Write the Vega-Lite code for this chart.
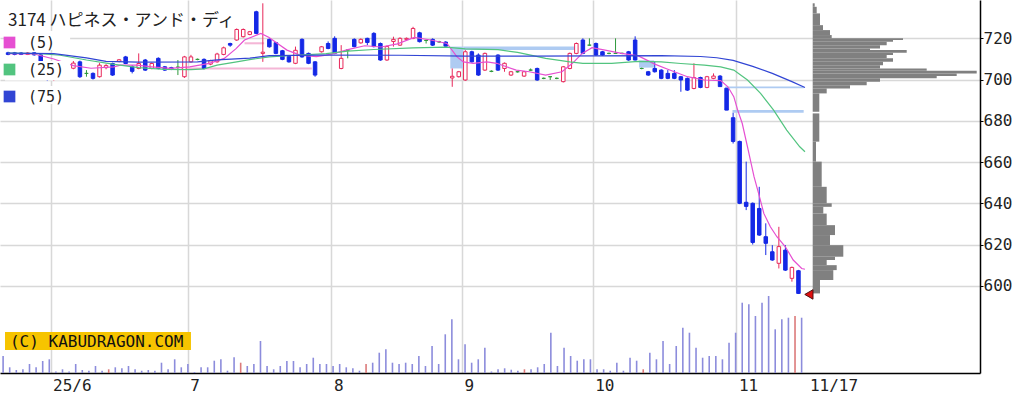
{
 "$schema": "https://vega.github.io/schema/vega-lite/v6.json",
 "width": 980, "height": 373, "autosize": "none", "padding": {"left": 0, "top": 0, "right": 52, "bottom": 28}, "background": "white",
 "config": {"view": {"stroke": null}, "font": "DejaVu Sans"},
 "datasets": {
  "candles": [
   {"i":0,"o":713.0,"h":713.5,"l":711.8,"c":712.2,"d":"down","v":17000,"sp":0},
   {"i":1,"o":713.0,"h":713.4,"l":711.8,"c":712.2,"d":"down","v":5700,"sp":0},
   {"i":2,"o":712.9,"h":713.3,"l":711.9,"c":712.2,"d":"down","v":3000,"sp":0},
   {"i":3,"o":712.2,"h":713.3,"l":711.9,"c":712.9,"d":"up","v":3700,"sp":0},
   {"i":4,"o":713.0,"h":713.3,"l":711.6,"c":712.0,"d":"down","v":9000,"sp":0},
   {"i":5,"o":712.0,"h":712.3,"l":707.5,"c":708.0,"d":"down","v":5700,"sp":0},
   {"i":6,"o":707.5,"h":708.0,"l":699.3,"c":703.5,"d":"down","v":12000,"sp":0},
   {"i":7,"o":702.5,"h":705.0,"l":699.3,"c":704.0,"d":"up","v":13700,"sp":0},
   {"i":8,"o":705.0,"h":706.0,"l":702.5,"c":703.0,"d":"down","v":1500,"sp":0},
   {"i":9,"o":703.0,"h":706.0,"l":702.5,"c":705.5,"d":"up","v":3700,"sp":0},
   {"i":10,"o":705.5,"h":709.0,"l":705.0,"c":708.0,"d":"up","v":1500,"sp":0},
   {"i":11,"o":708.6,"h":709.2,"l":700.8,"c":701.4,"d":"down","v":9000,"sp":0},
   {"i":12,"o":703.0,"h":704.6,"l":701.4,"c":703.0,"d":"even","v":3000,"sp":0},
   {"i":13,"o":703.0,"h":703.5,"l":700.0,"c":700.6,"d":"down","v":2300,"sp":0},
   {"i":14,"o":701.4,"h":708.0,"l":701.0,"c":707.0,"d":"up","v":7000,"sp":0},
   {"i":15,"o":705.8,"h":707.5,"l":705.0,"c":706.8,"d":"up","v":2300,"sp":0},
   {"i":16,"o":707.8,"h":708.2,"l":701.8,"c":702.2,"d":"down","v":3700,"sp":1},
   {"i":17,"o":708.8,"h":710.0,"l":708.4,"c":709.6,"d":"up","v":5700,"sp":0},
   {"i":18,"o":711.0,"h":711.5,"l":707.5,"c":707.8,"d":"down","v":4700,"sp":0},
   {"i":19,"o":706.2,"h":707.0,"l":703.0,"c":704.0,"d":"down","v":7000,"sp":0},
   {"i":20,"o":705.4,"h":712.7,"l":705.0,"c":707.8,"d":"up","v":3700,"sp":0},
   {"i":21,"o":709.5,"h":710.0,"l":704.2,"c":704.6,"d":"down","v":2300,"sp":0},
   {"i":22,"o":705.4,"h":708.3,"l":705.0,"c":707.8,"d":"up","v":3000,"sp":0},
   {"i":23,"o":710.3,"h":710.8,"l":705.0,"c":705.4,"d":"down","v":2300,"sp":0},
   {"i":24,"o":706.2,"h":706.6,"l":704.2,"c":704.6,"d":"down","v":10300,"sp":0},
   {"i":25,"o":705.8,"h":706.2,"l":704.6,"c":705.0,"d":"down","v":3700,"sp":0},
   {"i":26,"o":706.0,"h":709.5,"l":702.2,"c":706.0,"d":"even","v":13700,"sp":0},
   {"i":27,"o":701.4,"h":711.5,"l":700.8,"c":711.0,"d":"up","v":5700,"sp":0},
   {"i":28,"o":708.6,"h":712.0,"l":708.2,"c":711.0,"d":"up","v":9000,"sp":0},
   {"i":29,"o":709.8,"h":710.2,"l":709.4,"c":709.8,"d":"even","v":1000,"sp":0},
   {"i":30,"o":709.8,"h":710.3,"l":705.0,"c":705.4,"d":"down","v":5700,"sp":0},
   {"i":31,"o":707.5,"h":709.6,"l":707.0,"c":709.1,"d":"up","v":5700,"sp":0},
   {"i":32,"o":708.6,"h":713.0,"l":708.2,"c":712.4,"d":"up","v":12300,"sp":0},
   {"i":33,"o":712.2,"h":716.0,"l":711.8,"c":715.4,"d":"up","v":13700,"sp":0},
   {"i":34,"o":717.5,"h":717.9,"l":715.9,"c":716.7,"d":"down","v":2300,"sp":0},
   {"i":35,"o":719.2,"h":724.8,"l":718.8,"c":724.3,"d":"up","v":15700,"sp":0},
   {"i":36,"o":720.8,"h":724.8,"l":720.4,"c":724.3,"d":"up","v":10300,"sp":1},
   {"i":37,"o":721.9,"h":723.6,"l":721.5,"c":723.2,"d":"up","v":7000,"sp":0},
   {"i":38,"o":732.9,"h":733.4,"l":722.0,"c":722.4,"d":"down","v":9000,"sp":0},
   {"i":39,"o":712.7,"h":737.0,"l":708.6,"c":713.3,"d":"up","v":32000,"sp":0},
   {"i":40,"o":719.5,"h":720.0,"l":715.5,"c":715.9,"d":"down","v":7000,"sp":0},
   {"i":41,"o":717.9,"h":718.3,"l":712.3,"c":712.7,"d":"down","v":3700,"sp":0},
   {"i":42,"o":714.0,"h":714.4,"l":709.4,"c":709.8,"d":"down","v":7000,"sp":0},
   {"i":43,"o":711.2,"h":711.6,"l":708.2,"c":708.6,"d":"down","v":12000,"sp":0},
   {"i":44,"o":707.9,"h":716.0,"l":707.5,"c":714.2,"d":"up","v":12000,"sp":0},
   {"i":45,"o":719.5,"h":720.0,"l":710.6,"c":711.0,"d":"down","v":5700,"sp":0},
   {"i":46,"o":712.7,"h":713.1,"l":707.5,"c":707.9,"d":"down","v":9000,"sp":0},
   {"i":47,"o":708.6,"h":709.0,"l":701.4,"c":702.2,"d":"down","v":15300,"sp":0},
   {"i":48,"o":713.5,"h":716.3,"l":713.1,"c":715.9,"d":"up","v":9000,"sp":0},
   {"i":49,"o":717.5,"h":718.5,"l":714.7,"c":715.1,"d":"down","v":9000,"sp":0},
   {"i":50,"o":720.0,"h":721.0,"l":712.3,"c":712.7,"d":"down","v":7000,"sp":0},
   {"i":51,"o":705.4,"h":716.7,"l":705.0,"c":710.3,"d":"up","v":9000,"sp":0},
   {"i":52,"o":714.3,"h":714.6,"l":710.3,"c":714.3,"d":"even","v":5700,"sp":0},
   {"i":53,"o":719.5,"h":720.0,"l":715.6,"c":716.0,"d":"down","v":4700,"sp":0},
   {"i":54,"o":717.8,"h":720.0,"l":717.4,"c":719.5,"d":"up","v":2300,"sp":0},
   {"i":55,"o":720.0,"h":720.3,"l":716.7,"c":718.0,"d":"down","v":9000,"sp":1},
   {"i":56,"o":722.4,"h":723.0,"l":715.6,"c":716.0,"d":"down","v":10300,"sp":0},
   {"i":57,"o":717.5,"h":718.0,"l":709.1,"c":709.5,"d":"down","v":20300,"sp":0},
   {"i":58,"o":709.5,"h":716.5,"l":709.1,"c":716.0,"d":"up","v":23700,"sp":0},
   {"i":59,"o":718.5,"h":720.8,"l":716.0,"c":719.5,"d":"up","v":10300,"sp":0},
   {"i":60,"o":716.7,"h":720.5,"l":716.3,"c":720.0,"d":"up","v":9000,"sp":0},
   {"i":61,"o":719.5,"h":720.4,"l":719.1,"c":720.0,"d":"up","v":10300,"sp":0},
   {"i":62,"o":720.0,"h":725.6,"l":719.6,"c":724.8,"d":"up","v":9000,"sp":0},
   {"i":63,"o":722.7,"h":723.2,"l":718.0,"c":718.4,"d":"down","v":17000,"sp":0},
   {"i":64,"o":719.0,"h":719.3,"l":717.5,"c":719.0,"d":"even","v":7000,"sp":0},
   {"i":65,"o":719.5,"h":720.0,"l":716.3,"c":716.7,"d":"down","v":27000,"sp":0},
   {"i":66,"o":718.3,"h":718.8,"l":717.8,"c":718.3,"d":"even","v":9000,"sp":0},
   {"i":67,"o":718.2,"h":718.6,"l":716.0,"c":716.2,"d":"down","v":38700,"sp":0},
   {"i":68,"o":700.8,"h":705.4,"l":696.5,"c":701.6,"d":"up","v":53700,"sp":0},
   {"i":69,"o":701.4,"h":704.2,"l":701.0,"c":703.8,"d":"up","v":13700,"sp":0},
   {"i":70,"o":699.8,"h":714.3,"l":699.4,"c":713.5,"d":"up","v":28700,"sp":0},
   {"i":71,"o":713.5,"h":714.0,"l":708.2,"c":708.6,"d":"down","v":10300,"sp":0},
   {"i":72,"o":711.9,"h":712.7,"l":701.8,"c":702.2,"d":"down","v":13700,"sp":0},
   {"i":73,"o":704.6,"h":713.1,"l":704.2,"c":712.7,"d":"up","v":25300,"sp":0},
   {"i":74,"o":704.0,"h":704.5,"l":703.6,"c":704.0,"d":"even","v":1500,"sp":0},
   {"i":75,"o":711.9,"h":712.3,"l":704.2,"c":704.6,"d":"down","v":3700,"sp":0},
   {"i":76,"o":705.4,"h":708.3,"l":703.8,"c":707.9,"d":"up","v":4700,"sp":0},
   {"i":77,"o":702.2,"h":704.2,"l":701.8,"c":703.8,"d":"up","v":3300,"sp":0},
   {"i":78,"o":703.8,"h":704.2,"l":703.4,"c":703.8,"d":"even","v":2300,"sp":0},
   {"i":79,"o":701.7,"h":704.2,"l":701.3,"c":703.8,"d":"up","v":3700,"sp":1},
   {"i":80,"o":704.6,"h":705.4,"l":704.2,"c":704.6,"d":"even","v":3700,"sp":0},
   {"i":81,"o":705.4,"h":705.8,"l":699.4,"c":699.8,"d":"down","v":5700,"sp":0},
   {"i":82,"o":700.6,"h":701.0,"l":700.2,"c":700.6,"d":"even","v":9000,"sp":0},
   {"i":83,"o":701.4,"h":701.6,"l":699.8,"c":701.4,"d":"even","v":40300,"sp":0},
   {"i":84,"o":700.6,"h":701.0,"l":700.2,"c":700.6,"d":"even","v":7000,"sp":0},
   {"i":85,"o":699.0,"h":706.6,"l":698.6,"c":706.2,"d":"up","v":25300,"sp":0},
   {"i":86,"o":705.4,"h":713.1,"l":705.0,"c":712.7,"d":"up","v":17000,"sp":0},
   {"i":87,"o":712.7,"h":718.0,"l":712.3,"c":717.5,"d":"up","v":12300,"sp":0},
   {"i":88,"o":719.2,"h":720.0,"l":712.3,"c":712.7,"d":"down","v":13700,"sp":0},
   {"i":89,"o":716.7,"h":720.0,"l":716.5,"c":716.7,"d":"even","v":13700,"sp":0},
   {"i":90,"o":717.5,"h":718.0,"l":711.5,"c":711.9,"d":"down","v":3700,"sp":0},
   {"i":91,"o":713.5,"h":713.9,"l":711.5,"c":711.9,"d":"down","v":3700,"sp":0},
   {"i":92,"o":712.7,"h":713.1,"l":712.3,"c":712.7,"d":"even","v":2300,"sp":0},
   {"i":93,"o":712.7,"h":720.0,"l":712.4,"c":712.7,"d":"even","v":10300,"sp":0},
   {"i":94,"o":712.7,"h":713.1,"l":712.3,"c":712.7,"d":"even","v":2300,"sp":0},
   {"i":95,"o":713.5,"h":713.9,"l":709.1,"c":709.5,"d":"down","v":15300,"sp":0},
   {"i":96,"o":719.2,"h":721.0,"l":709.3,"c":709.5,"d":"down","v":12300,"sp":0},
   {"i":97,"o":705.4,"h":705.8,"l":705.0,"c":705.4,"d":"even","v":3700,"sp":1},
   {"i":98,"o":703.8,"h":704.2,"l":701.8,"c":702.2,"d":"down","v":20300,"sp":0},
   {"i":99,"o":705.4,"h":708.6,"l":703.4,"c":703.8,"d":"down","v":13700,"sp":0},
   {"i":100,"o":704.6,"h":705.0,"l":700.2,"c":700.6,"d":"down","v":32000,"sp":0},
   {"i":101,"o":703.0,"h":704.6,"l":700.2,"c":700.6,"d":"down","v":9000,"sp":0},
   {"i":102,"o":703.0,"h":704.6,"l":700.2,"c":700.6,"d":"down","v":27000,"sp":0},
   {"i":103,"o":701.4,"h":701.8,"l":694.1,"c":699.8,"d":"down","v":45300,"sp":0},
   {"i":104,"o":700.6,"h":701.0,"l":694.5,"c":694.9,"d":"down","v":40300,"sp":0},
   {"i":105,"o":695.7,"h":707.9,"l":695.3,"c":701.0,"d":"up","v":25300,"sp":0},
   {"i":106,"o":701.0,"h":701.4,"l":695.8,"c":696.2,"d":"down","v":15300,"sp":0},
   {"i":107,"o":696.2,"h":701.8,"l":695.8,"c":701.4,"d":"up","v":17000,"sp":0},
   {"i":108,"o":700.6,"h":703.0,"l":700.2,"c":701.7,"d":"up","v":17000,"sp":0},
   {"i":109,"o":701.7,"h":702.2,"l":696.6,"c":696.6,"d":"down","v":13700,"sp":0},
   {"i":110,"o":695.8,"h":695.8,"l":685.2,"c":685.2,"d":"down","v":30300,"sp":0},
   {"i":111,"o":681.5,"h":683.9,"l":669.0,"c":670.0,"d":"down","v":40300,"sp":0},
   {"i":112,"o":670.0,"h":670.4,"l":639.6,"c":640.0,"d":"down","v":70300,"sp":0},
   {"i":113,"o":640.5,"h":660.2,"l":636.7,"c":638.5,"d":"down","v":68700,"sp":0},
   {"i":114,"o":640.0,"h":640.4,"l":620.0,"c":621.0,"d":"down","v":57000,"sp":0},
   {"i":115,"o":637.5,"h":648.0,"l":624.2,"c":624.6,"d":"down","v":70300,"sp":0},
   {"i":116,"o":623.8,"h":630.3,"l":614.9,"c":620.6,"d":"down","v":77000,"sp":0},
   {"i":117,"o":616.5,"h":619.7,"l":612.1,"c":612.5,"d":"down","v":43700,"sp":0},
   {"i":118,"o":610.9,"h":628.6,"l":608.4,"c":619.0,"d":"up","v":53700,"sp":0},
   {"i":119,"o":617.3,"h":619.7,"l":607.2,"c":607.6,"d":"down","v":55300,"sp":0},
   {"i":120,"o":603.6,"h":609.3,"l":602.0,"c":608.9,"d":"up","v":57000,"sp":1},
   {"i":121,"o":607.3,"h":607.7,"l":596.0,"c":596.3,"d":"down","v":55300,"sp":0}
  ],
  "ma": [
   {"ma":"(5)","x":0,"v":712.6},{"ma":"(5)","x":4,"v":712.4},{"ma":"(5)","x":7,"v":710.0},{"ma":"(5)","x":10,"v":706.8},{"ma":"(5)","x":12.7,"v":705.5},{"ma":"(5)","x":16.2,"v":706.2},{"ma":"(5)","x":17.2,"v":707.0},{"ma":"(5)","x":19.7,"v":707.0},{"ma":"(5)","x":22,"v":706.2},{"ma":"(5)","x":24.8,"v":705.4},{"ma":"(5)","x":27.8,"v":706.2},{"ma":"(5)","x":30.8,"v":707.9},{"ma":"(5)","x":33.1,"v":710.3},{"ma":"(5)","x":34.9,"v":715.0},{"ma":"(5)","x":36.2,"v":719.2},{"ma":"(5)","x":38.7,"v":722.4},{"ma":"(5)","x":39.9,"v":720.5},{"ma":"(5)","x":41.2,"v":717.6},{"ma":"(5)","x":42.7,"v":714.3},{"ma":"(5)","x":44.7,"v":711.9},{"ma":"(5)","x":47.2,"v":711.1},{"ma":"(5)","x":48.7,"v":711.9},{"ma":"(5)","x":50,"v":712.7},{"ma":"(5)","x":52,"v":714.5},{"ma":"(5)","x":54.6,"v":716.4},{"ma":"(5)","x":57.1,"v":715.8},{"ma":"(5)","x":59.6,"v":717.3},{"ma":"(5)","x":62.2,"v":720.5},{"ma":"(5)","x":64.7,"v":719.2},{"ma":"(5)","x":67.2,"v":717.5},{"ma":"(5)","x":68.7,"v":711.1},{"ma":"(5)","x":69.7,"v":708.6},{"ma":"(5)","x":71.2,"v":707.9},{"ma":"(5)","x":73.3,"v":708.6},{"ma":"(5)","x":74.8,"v":707.9},{"ma":"(5)","x":76.3,"v":706.2},{"ma":"(5)","x":77.8,"v":704.6},{"ma":"(5)","x":79.8,"v":703.8},{"ma":"(5)","x":82.3,"v":702.2},{"ma":"(5)","x":84.8,"v":703.8},{"ma":"(5)","x":86.4,"v":707.9},{"ma":"(5)","x":87.9,"v":712.7},{"ma":"(5)","x":89.4,"v":715.5},{"ma":"(5)","x":91.4,"v":714.3},{"ma":"(5)","x":93.9,"v":712.7},{"ma":"(5)","x":96.5,"v":711.5},{"ma":"(5)","x":99,"v":707.5},{"ma":"(5)","x":101,"v":705.0},{"ma":"(5)","x":104,"v":701.4},{"ma":"(5)","x":106.6,"v":699.8},{"ma":"(5)","x":109.1,"v":699.5},{"ma":"(5)","x":110.2,"v":696.5},{"ma":"(5)","x":111.1,"v":691.7},{"ma":"(5)","x":111.7,"v":685.2},{"ma":"(5)","x":112.4,"v":678.7},{"ma":"(5)","x":113.2,"v":667.4},{"ma":"(5)","x":114.2,"v":652.9},{"ma":"(5)","x":114.9,"v":644.8},{"ma":"(5)","x":115.7,"v":635.1},{"ma":"(5)","x":116.7,"v":628.6},{"ma":"(5)","x":117.7,"v":623.8},{"ma":"(5)","x":119,"v":618.9},{"ma":"(5)","x":120.2,"v":612.5},{"ma":"(5)","x":121.5,"v":608.4},{"ma":"(5)","x":122,"v":608.0},
   {"ma":"(25)","x":0,"v":712.8},{"ma":"(25)","x":5,"v":712.6},{"ma":"(25)","x":8,"v":711.8},{"ma":"(25)","x":12,"v":709.5},{"ma":"(25)","x":16,"v":707.5},{"ma":"(25)","x":20,"v":705.8},{"ma":"(25)","x":24,"v":705.0},{"ma":"(25)","x":28,"v":704.8},{"ma":"(25)","x":30,"v":705.2},{"ma":"(25)","x":32,"v":707.0},{"ma":"(25)","x":35,"v":708.6},{"ma":"(25)","x":37.2,"v":709.8},{"ma":"(25)","x":40,"v":711.0},{"ma":"(25)","x":44,"v":711.8},{"ma":"(25)","x":48.7,"v":712.6},{"ma":"(25)","x":52,"v":713.8},{"ma":"(25)","x":56,"v":714.6},{"ma":"(25)","x":62,"v":715.4},{"ma":"(25)","x":67,"v":715.7},{"ma":"(25)","x":70,"v":714.9},{"ma":"(25)","x":75,"v":714.5},{"ma":"(25)","x":78,"v":713.2},{"ma":"(25)","x":80,"v":711.9},{"ma":"(25)","x":82.3,"v":710.3},{"ma":"(25)","x":86,"v":708.6},{"ma":"(25)","x":88,"v":707.9},{"ma":"(25)","x":92.4,"v":707.9},{"ma":"(25)","x":96.5,"v":708.8},{"ma":"(25)","x":100,"v":708.6},{"ma":"(25)","x":103,"v":707.8},{"ma":"(25)","x":106.6,"v":707.0},{"ma":"(25)","x":109.1,"v":706.2},{"ma":"(25)","x":111.1,"v":704.6},{"ma":"(25)","x":113.2,"v":699.8},{"ma":"(25)","x":115.2,"v":693.3},{"ma":"(25)","x":117.2,"v":685.2},{"ma":"(25)","x":119.2,"v":675.5},{"ma":"(25)","x":121.2,"v":667.4},{"ma":"(25)","x":122,"v":665.0},
   {"ma":"(75)","x":0,"v":712.8},{"ma":"(75)","x":7,"v":712.6},{"ma":"(75)","x":12,"v":710.5},{"ma":"(75)","x":15,"v":708.8},{"ma":"(75)","x":20,"v":708.5},{"ma":"(75)","x":29,"v":708.6},{"ma":"(75)","x":32,"v":709.6},{"ma":"(75)","x":37,"v":710.4},{"ma":"(75)","x":40,"v":711.6},{"ma":"(75)","x":48,"v":711.9},{"ma":"(75)","x":60,"v":711.8},{"ma":"(75)","x":70,"v":711.4},{"ma":"(75)","x":80,"v":711.4},{"ma":"(75)","x":90,"v":711.5},{"ma":"(75)","x":100,"v":711.6},{"ma":"(75)","x":106,"v":711.2},{"ma":"(75)","x":108.5,"v":710.6},{"ma":"(75)","x":111,"v":709.3},{"ma":"(75)","x":114,"v":706.4},{"ma":"(75)","x":117,"v":703.0},{"ma":"(75)","x":120,"v":699.0},{"ma":"(75)","x":122,"v":696.2}
  ],
  "gaps": [
   {"x1":67.7,"x2":69.7,"lo":705.4,"hi":716.0,"t":"down"},
   {"x1":69.7,"x2":86.9,"lo":714.4,"hi":716.0,"t":"down"},
   {"x1":96.6,"x2":98.9,"lo":705.8,"hi":709.3,"t":"down"},
   {"x1":109.8,"x2":121.8,"lo":695.8,"hi":696.6,"t":"down"},
   {"x1":110.9,"x2":121.8,"lo":683.9,"hi":685.2,"t":"down"},
   {"x1":26.5,"x2":46.5,"lo":704.9,"hi":705.9,"t":"up"},
   {"x1":36.2,"x2":39.2,"lo":717.1,"hi":718.1,"t":"up"}
  ],
  "profile": [
   {"lo":735.3,"hi":737.0,"pv":2000},{"lo":732.1,"hi":735.3,"pv":4000},{"lo":726.4,"hi":732.1,"pv":7300},{"lo":724.0,"hi":726.4,"pv":10300},{"lo":721.6,"hi":724.0,"pv":17300},{"lo":720.0,"hi":721.6,"pv":19000},{"lo":719.2,"hi":720.0,"pv":90300},{"lo":718.4,"hi":719.2,"pv":80300},{"lo":716.7,"hi":718.4,"pv":74000},{"lo":715.1,"hi":716.7,"pv":67300},{"lo":714.3,"hi":715.1,"pv":57300},{"lo":713.0,"hi":714.3,"pv":94000},{"lo":711.9,"hi":713.0,"pv":80300},{"lo":710.3,"hi":711.9,"pv":74000},{"lo":708.6,"hi":710.3,"pv":80300},{"lo":707.0,"hi":708.6,"pv":70300},{"lo":705.4,"hi":707.0,"pv":67300},{"lo":704.3,"hi":705.4,"pv":114000},{"lo":703.0,"hi":704.3,"pv":164000},{"lo":701.7,"hi":703.0,"pv":144000},{"lo":700.6,"hi":701.7,"pv":124000},{"lo":699.0,"hi":700.6,"pv":67300},{"lo":697.3,"hi":699.0,"pv":54000},{"lo":695.7,"hi":697.3,"pv":37300},{"lo":693.3,"hi":695.7,"pv":14000},{"lo":684.4,"hi":693.3,"pv":6600},{"lo":669.9,"hi":683.6,"pv":6600},{"lo":660.2,"hi":669.9,"pv":3300},{"lo":648.0,"hi":660.2,"pv":9000},{"lo":640.0,"hi":648.0,"pv":14000},{"lo":638.3,"hi":640.0,"pv":19000},{"lo":635.0,"hi":638.3,"pv":10600},{"lo":629.4,"hi":635.0,"pv":14000},{"lo":624.6,"hi":629.4,"pv":22300},{"lo":619.7,"hi":624.6,"pv":17300},{"lo":614.1,"hi":619.7,"pv":30600},{"lo":612.5,"hi":614.1,"pv":22300},{"lo":610.0,"hi":612.5,"pv":14000},{"lo":607.6,"hi":610.0,"pv":24000},{"lo":602.8,"hi":607.6,"pv":20600},{"lo":596.3,"hi":602.8,"pv":7300}
  ]
 },
 "layer": [
  {
   "data": {"name": "candles"},
   "mark": {"type": "rule", "strokeWidth": 1.6},
   "encoding": {
    "x": {"field": "i", "type": "quantitative", "scale": {"domain": [-0.47, 148.03], "nice": false, "zero": false}, "axis": null},
    "y": {"field": "v", "type": "quantitative", "scale": {"domain": [0, 373000], "nice": false}, "axis": null},
    "y2": {"datum": 0},
    "color": {"condition": {"test": "datum.sp == 1", "value": "#dc7a7a"}, "value": "#8c8cdc"}
   }
  },
  {
   "data": {"name": "profile"},
   "mark": {"type": "rect", "color": "#808080"},
   "encoding": {
    "x": {"field": "pv", "type": "quantitative", "scale": {"domain": [-812700, 167300], "nice": false, "zero": false}, "axis": null},
    "x2": {"datum": 0},
    "y": {"field": "lo", "type": "quantitative", "scale": {"domain": [557.7, 738.6], "nice": false, "zero": false}, "axis": null},
    "y2": {"field": "hi"}
   }
  },
  {
   "layer": [
    {
     "data": {"name": "gaps"},
     "mark": {"type": "rect"},
     "encoding": {
      "x": {"field": "x1", "type": "quantitative", "scale": {"domain": [-0.47, 148.03], "nice": false, "zero": false},
        "axis": {"values": [6.5, 27.5, 49.5, 69.5, 89.5, 111.5, 121], "title": null,
          "labelExpr": "datum.value < 10 ? '25/6' : datum.value < 30 ? '7' : datum.value < 50 ? '8' : datum.value < 70 ? '9' : datum.value < 90 ? '10' : datum.value < 115 ? '11' : '11/17'",
          "ticks": false, "tickSize": 0, "labelAlign": "left", "labelBaseline": "top",
          "labelOffset": {"condition": {"test": "datum.value > 115", "value": 11}, "value": 2},
          "labelFont": "DejaVu Sans Mono", "labelFontSize": 16, "labelColor": "#222", "labelPadding": 4,
          "grid": true, "gridColor": {"condition": {"test": "datum.value > 115", "value": "rgba(0,0,0,0)"}, "value": "#d8d8d8"}, "gridWidth": 1.5,
          "domainColor": "#000", "domainWidth": 1.5, "labelOverlap": false, "labelFlush": false, "labelBound": false}},
      "x2": {"field": "x2"},
      "y": {"field": "lo", "type": "quantitative", "scale": {"domain": [557.7, 738.6], "nice": false, "zero": false},
        "axis": {"orient": "right", "values": [600, 620, 640, 660, 680, 700, 720], "title": null,
          "tickSize": 3, "tickColor": "#000", "tickWidth": 1, "labelPadding": 0, "labelBaseline": "middle",
          "labelFont": "DejaVu Sans Mono", "labelFontSize": 16, "labelColor": "#222",
          "grid": true, "gridColor": "#d8d8d8", "gridWidth": 1.5, "domainColor": "#000", "domainWidth": 1.5}},
      "y2": {"field": "hi"},
      "color": {"condition": {"test": "datum.t == 'up'", "value": "#f4b6d6"}, "value": "#aecbf2"}
     }
    },
    {
     "data": {"name": "candles"},
     "mark": {"type": "rule", "strokeWidth": 1},
     "encoding": {
      "x": {"field": "i", "type": "quantitative"},
      "y": {"field": "l", "type": "quantitative"},
      "y2": {"field": "h"},
      "stroke": {"field": "d", "type": "nominal", "scale": {"domain": ["up", "down", "even"], "range": ["#e8285a", "#1428e6", "#2f9a3c"]}, "legend": null}
     }
    },
    {
     "data": {"name": "candles"},
     "mark": {"type": "bar", "width": 3.5, "strokeWidth": 1},
     "encoding": {
      "x": {"field": "i", "type": "quantitative"},
      "y": {"field": "o", "type": "quantitative"},
      "y2": {"field": "c"},
      "fill": {"field": "d", "type": "nominal", "scale": {"domain": ["up", "down", "even"], "range": ["#ffffff", "#1428e6", "#2f9a3c"]}, "legend": null},
      "stroke": {"field": "d", "type": "nominal", "legend": null}
     }
    },
    {
     "data": {"name": "ma"},
     "mark": {"type": "line", "strokeWidth": 1.2},
     "encoding": {
      "x": {"field": "x", "type": "quantitative"},
      "y": {"field": "v", "type": "quantitative"},
      "color": {"field": "ma", "type": "nominal", "scale": {"domain": ["(5)", "(25)", "(75)"], "range": ["#e64fd2", "#52c47f", "#3145d4"]},
        "legend": {"title": null, "orient": "none", "legendX": 2, "legendY": 35, "symbolType": "square", "symbolSize": 137,
          "symbolStrokeWidth": 0, "labelFont": "DejaVu Sans Mono", "labelFontSize": 15, "labelColor": "#222",
          "labelOffset": 11, "rowPadding": 11, "padding": 0,
          "encode": {"symbols": {"update": {"fill": {"scale": "color", "field": "value"}, "fillOpacity": {"value": 1}, "strokeWidth": {"value": 0}}}}}}
     }
    },
    {
     "data": {"values": [{"row": "(5)"}]},
     "mark": {"type": "rect", "color": "white"},
     "encoding": {"x": {"datum": -0.47}, "x2": {"datum": 9.5}, "y": {"datum": 714.4}, "y2": {"datum": 723.6}}
    },
    {
     "data": {"values": [{"row": "(25)"}]},
     "mark": {"type": "rect", "color": "white"},
     "encoding": {"x": {"datum": -0.47}, "x2": {"datum": 9.5}, "y": {"datum": 699.6}, "y2": {"datum": 709.0}}
    },
    {
     "data": {"values": [{"row": "(75)"}]},
     "mark": {"type": "rect", "color": "white"},
     "encoding": {"x": {"datum": -0.47}, "x2": {"datum": 9.5}, "y": {"datum": 688.2}, "y2": {"datum": 696.9}}
    },
    {
     "data": {"values": [{"p": 595.8}]},
     "mark": {"type": "point", "shape": "triangle-left", "size": 90, "filled": true, "fill": "#e01010", "stroke": "#501010", "strokeWidth": 1, "opacity": 1},
     "encoding": {
      "x": {"datum": 122.6},
      "y": {"field": "p", "type": "quantitative"}
     }
    },
    {
     "data": {"values": [{"t": "3174 ハピネス・アンド・ディ"}]},
     "mark": {"type": "text", "align": "left", "baseline": "alphabetic", "font": "Noto Sans CJK JP", "fontSize": 17, "color": "#222"},
     "encoding": {
      "x": {"datum": 0},
      "y": {"datum": 726.0},
      "text": {"field": "t"}
     }
    },
    {
     "data": {"values": [{"t": "(C) KABUDRAGON.COM"}]},
     "mark": {"type": "rect", "color": "#f6c400"},
     "encoding": {
      "x": {"datum": -0.47},
      "x2": {"datum": 28.0},
      "y": {"datum": 568.85},
      "y2": {"datum": 577.6}
     }
    },
    {
     "data": {"values": [{"t": "(C) KABUDRAGON.COM"}]},
     "mark": {"type": "text", "align": "left", "baseline": "alphabetic", "font": "DejaVu Sans Mono", "fontSize": 16, "color": "#111"},
     "encoding": {
      "x": {"datum": 0.29},
      "y": {"datum": 570.45},
      "text": {"field": "t"}
     }
    }
   ]
  }
 ],
 "resolve": {"scale": {"x": "independent", "y": "independent"}}
}
